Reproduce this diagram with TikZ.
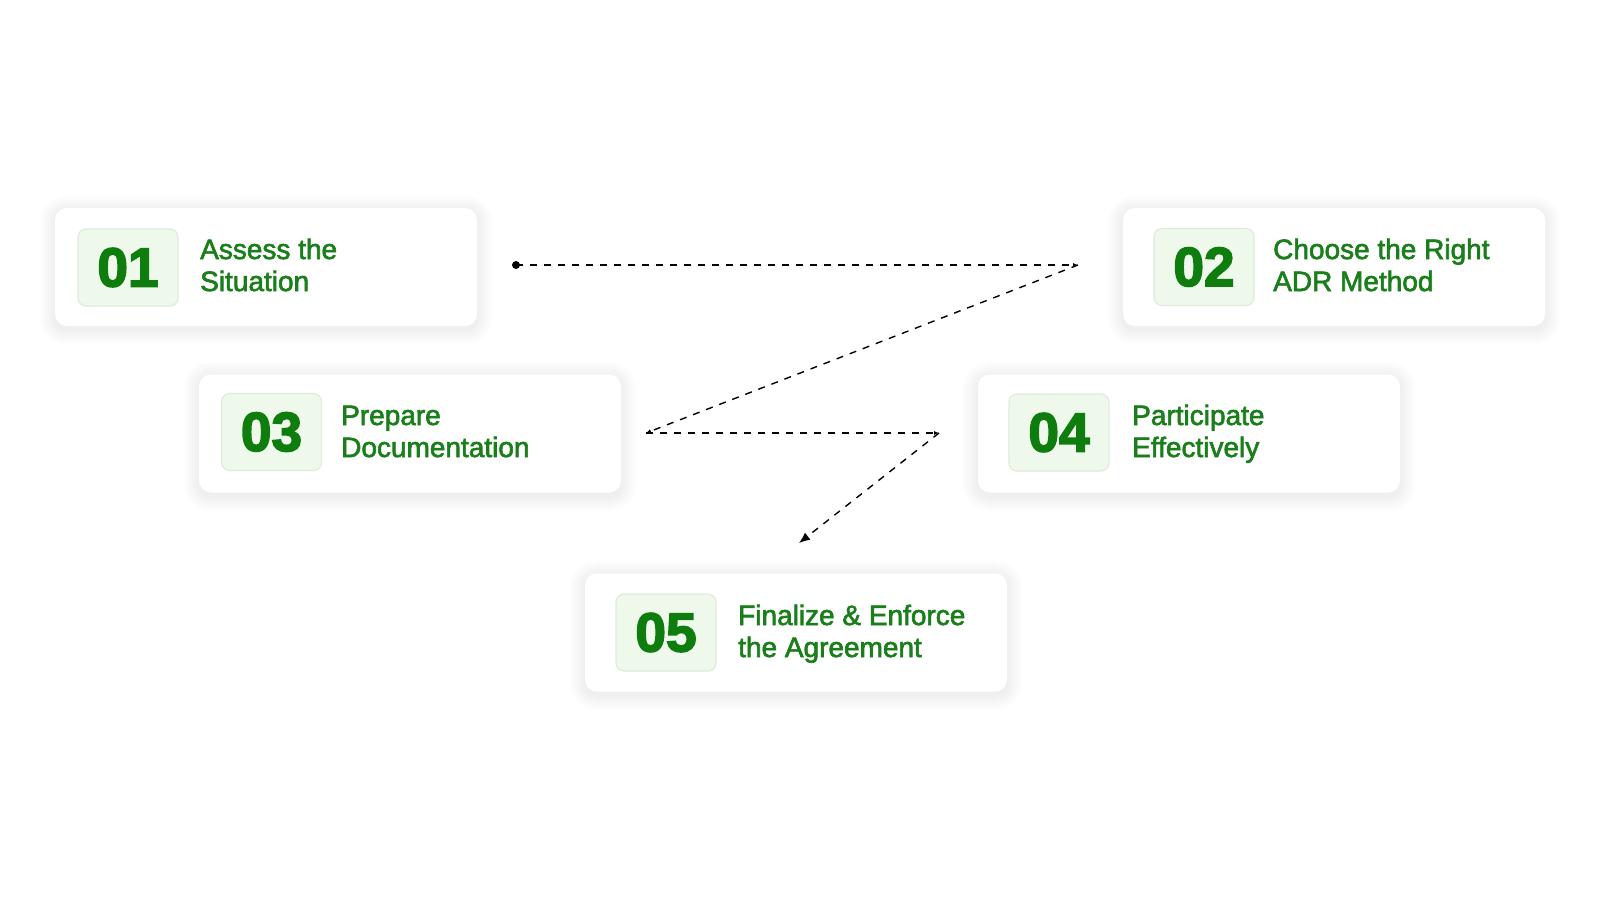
\documentclass[tikz,border=0pt]{standalone}
\usepackage{fontspec}
\setmainfont{Liberation Sans}
\newfontfamily\stepfont{Liberation Sans}[FakeBold=2.2]
\newfontfamily\numfont{Liberation Sans Bold}[FakeBold=3]
\usetikzlibrary{arrows.meta}
\pgfdeclarelayer{background}
\pgfsetlayers{background,main}
\definecolor{txtgreen}{HTML}{1A7F1A}
\definecolor{numgreen}{HTML}{0E7D0E}
\definecolor{sqfill}{HTML}{EEF9EC}
\definecolor{sqline}{HTML}{E0EADF}
\tikzset{
  card/.style={draw=none, fill=white, rounded corners=12pt, minimum width=422pt, minimum height=118pt, inner sep=0pt},
  numbox/.style={draw=sqline, line width=1.2pt, fill=sqfill, rounded corners=8pt, minimum width=100pt, minimum height=77pt, inner sep=0pt,
    font=\numfont\fontsize{55}{55}\selectfont, text=numgreen},
  label/.style={anchor=base west, inner sep=0pt, font=\stepfont\fontsize{28}{32}\selectfont, text=txtgreen},
  conn/.style={draw=black, line width=1.4pt, dash pattern=on 7pt off 7pt, -{Latex[length=5pt,width=4pt]}},
  lastconn/.style={draw=black, line width=1.4pt, dash pattern=on 7pt off 7pt, -{Latex[length=11pt,width=9pt]}},
  dotnode/.style={circle, fill=black, minimum size=8pt, inner sep=0pt},
  shadowlayer/.style={fill=black, opacity=0.0045}
}
\begin{document}
\begin{tikzpicture}[x=1pt,y=-1pt]
\begin{pgfonlayer}{background}
\fill[white] (0,0) rectangle (1600,900);
\end{pgfonlayer}
\useasboundingbox (0,0) rectangle (1600,900);
% cards
\node[card] (b1) at (266,267) {};
\node[card] (b2) at (1334,267) {};
\node[card] (b3) at (410,433.5) {};
\node[card] (b4) at (1189,433.5) {};
\node[card] (b5) at (796,632.5) {};
% soft shadows
\begin{pgfonlayer}{background}
\foreach \b in {b1,b2,b3,b4,b5}{
  \foreach \i in {1,...,16}{
    \fill[shadowlayer, rounded corners=12pt+\i pt]
      ([xshift=-\i pt, yshift=\i pt-3pt]\b.north west) rectangle ([xshift=\i pt, yshift=-\i pt-3pt]\b.south east);
  }
}
\end{pgfonlayer}
% number boxes
\node[numbox] (n1) at (128,267.5) {01};
\node[numbox] (n2) at (1204,267) {02};
\node[numbox] (n3) at (271.5,432) {03};
\node[numbox] (n4) at (1059,432.5) {04};
\node[numbox] (n5) at (666,632.5) {05};
% labels
\node[label] (t1a) at (200,259) {Assess the};
\node[label] (t1b) at (200,291) {Situation};
\node[label] (t2a) at (1273,259) {Choose the Right};
\node[label] (t2b) at (1273,291) {ADR Method};
\node[label] (t3a) at (341,425) {Prepare};
\node[label] (t3b) at (341,457) {Documentation};
\node[label] (t4a) at (1132,425) {Participate};
\node[label] (t4b) at (1132,457) {Effectively};
\node[label] (t5a) at (738,625) {Finalize \& Enforce};
\node[label] (t5b) at (738,657) {the Agreement};
% connectors
\node[dotnode] (d0) at (516,265) {};
\coordinate (c1) at (1078,265);
\coordinate (c2) at (646,433);
\coordinate (c3) at (939,433);
\coordinate (c4) at (799,543);
\draw[conn] (d0.center) -- (c1);
\draw[conn] (c1) -- (c2);
\draw[conn] (c2) -- (c3);
\draw[lastconn] (c3) -- (c4);
\end{tikzpicture}
\end{document}
